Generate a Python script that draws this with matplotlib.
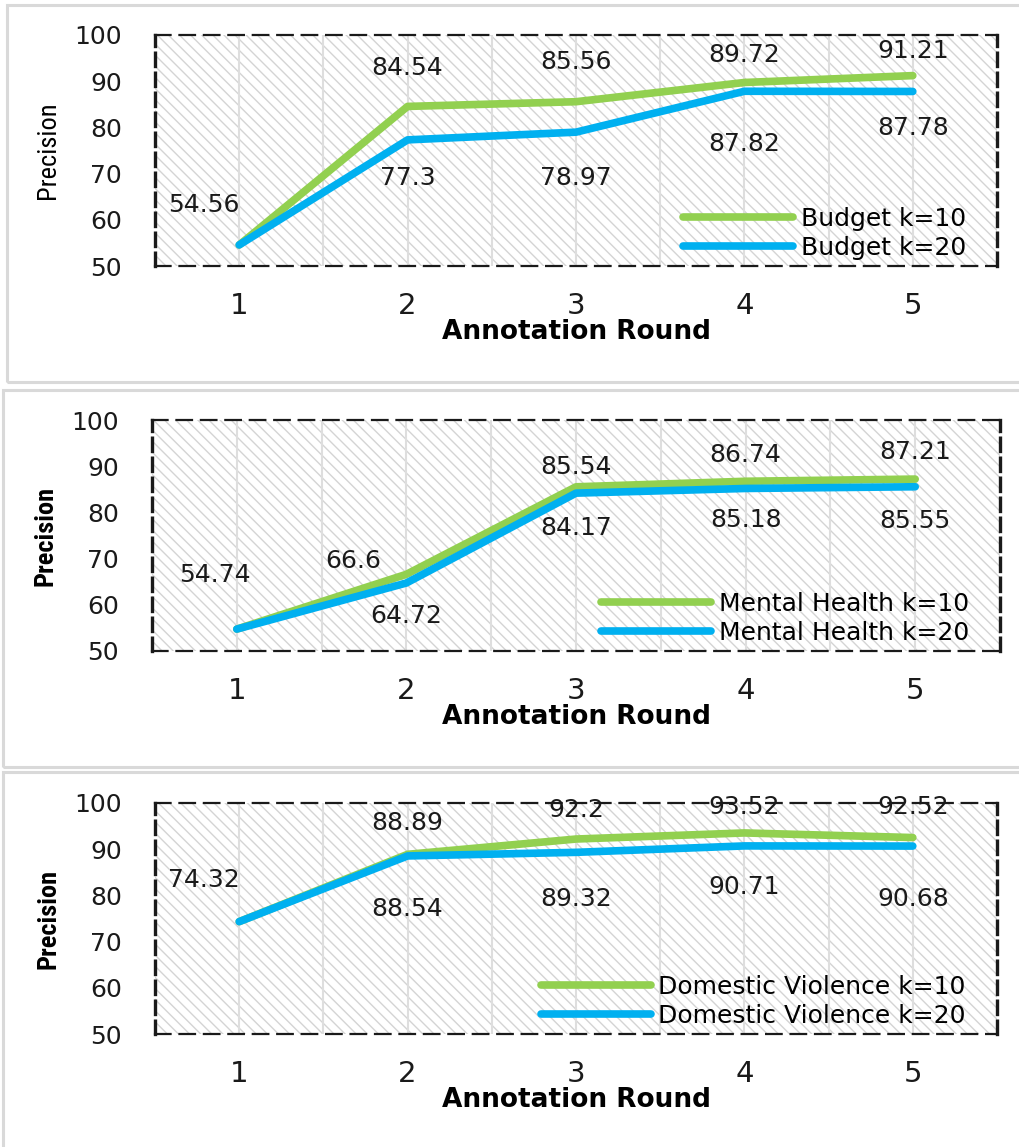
import matplotlib
matplotlib.use("Agg")
import matplotlib.pyplot as plt
from matplotlib.patches import Rectangle

W, H = 1019, 1147
DPI = 100

rounds = [1, 2, 3, 4, 5]
yticks = [50, 60, 70, 80, 90, 100]

budget_k10 = [54.56, 84.54, 85.56, 89.72, 91.21]
budget_k20 = [54.56, 77.3, 78.97, 87.82, 87.78]
mental_k10 = [54.74, 66.6, 85.54, 86.74, 87.21]
mental_k20 = [54.74, 64.72, 84.17, 85.18, 85.55]
domestic_k10 = [74.32, 88.89, 92.2, 93.52, 92.52]
domestic_k20 = [74.32, 88.54, 89.32, 90.71, 90.68]

names = ["Budget", "Mental Health", "Domestic Violence"]

# label offsets in pixels (dx, dy up); None = no label
off_k10 = [
    [(-35, 40), (0, 38), (0, 40), (0, 27), (0, 25)],
    [(-22, 54), (-53, 13), (0, 20), (0, 26), (0, 27)],
    [(-35, 42), (0, 31), (0, 29), (0, 26), (0, 31)],
]
off_k20 = [
    [None, (0, -38), (0, -46), (0, -53), (0, -37)],
    [None, (0, -33), (0, -35), (0, -32), (0, -34)],
    [None, (0, -53), (0, -47), (0, -41), (0, -53)],
]

GREEN = "#92D050"
BLUE = "#00B0F0"

# pixel boxes: panel frame (x0, y0, x1, y1) and plot area
frames = [(7, 5, 1030, 382), (3, 390, 1030, 767), (3, 772, 1030, 1160)]
axes_px = [(155, 35, 997, 266), (152, 420, 1000, 651), (155, 803, 997, 1034)]
narrow = ["Liberation Sans Narrow", "Roboto Condensed", "Open Sans", "DejaVu Sans"]

plt.rcParams["font.family"] = ["DejaVu Sans"]
fig = plt.figure(figsize=(W / DPI, H / DPI), dpi=DPI)

for fx0, fy0, fx1, fy1 in frames:
    fig.patches.append(Rectangle((fx0 / W, 1 - fy1 / H), (fx1 - fx0) / W, (fy1 - fy0) / H,
                                 transform=fig.transFigure, facecolor="none",
                                 edgecolor="#d9d9d9", lw=2.2))

series = [(budget_k10, budget_k20), (mental_k10, mental_k20), (domestic_k10, domestic_k20)]

for i, (k10, k20) in enumerate(series):
    x0, y0, x1, y1 = axes_px[i]
    ax = fig.add_axes([x0 / W, 1 - y1 / H, (x1 - x0) / W, (y1 - y0) / H])
    ax.set_facecolor("white")
    ax.add_patch(Rectangle((0, 0), 1, 1, transform=ax.transAxes, hatch="\\\\\\",
                           facecolor="none", edgecolor="#d4d4d4", lw=0, zorder=0))
    ax.set_xlim(0.5, 5.5)
    ax.set_ylim(50, 100)
    ax.set_xticks(rounds)
    ax.set_xticks([1.5, 2.5, 3.5, 4.5], minor=True)
    ax.set_yticks(yticks)
    ax.grid(axis="x", which="both", color="#dedede", lw=1.5, zorder=0.5)
    ax.tick_params(axis="both", which="both", length=0)
    ax.tick_params(axis="y", labelsize=18, pad=24, colors="#1a1a1a")
    ax.tick_params(axis="x", labelsize=21, pad=19, colors="#1a1a1a")
    for side in ["top", "bottom"]:
        ax.spines[side].set_linestyle((0, (7, 4)))
        ax.spines[side].set_linewidth(1.6)
    for side in ["left", "right"]:
        ax.spines[side].set_linestyle((0, (4, 2)))
        ax.spines[side].set_linewidth(2.4)
    for s in ax.spines.values():
        s.set_color("#1a1a1a")

    ax.plot(rounds, k10, color=GREEN, lw=5.5, solid_capstyle="round",
            label=f"{names[i]} k=10", zorder=3)
    ax.plot(rounds, k20, color=BLUE, lw=5.5, solid_capstyle="round",
            label=f"{names[i]} k=20", zorder=4)

    for xv, yv, off in zip(rounds, k10, off_k10[i]):
        if off is not None:
            ax.annotate(f"{yv:g}", (xv, yv), xytext=off, textcoords="offset pixels",
                        ha="center", va="center", fontsize=18, color="#1a1a1a", zorder=5)
    for xv, yv, off in zip(rounds, k20, off_k20[i]):
        if off is not None:
            ax.annotate(f"{yv:g}", (xv, yv), xytext=off, textcoords="offset pixels",
                        ha="center", va="center", fontsize=18, color="#1a1a1a", zorder=5)

    ax.set_xlabel("Annotation Round", fontsize=19, fontweight="bold", labelpad=-1)
    ax.set_ylabel("Precision", fontsize=19, family=narrow,
                  fontweight="bold" if i > 0 else "normal", labelpad=10)

    ax.legend(loc="lower right", bbox_to_anchor=(0.975, -0.018), frameon=False,
              fontsize=18, handlelength=4.4, handletextpad=0.3, labelspacing=0.22,
              borderaxespad=0)

fig.savefig("out.png", dpi=DPI)
